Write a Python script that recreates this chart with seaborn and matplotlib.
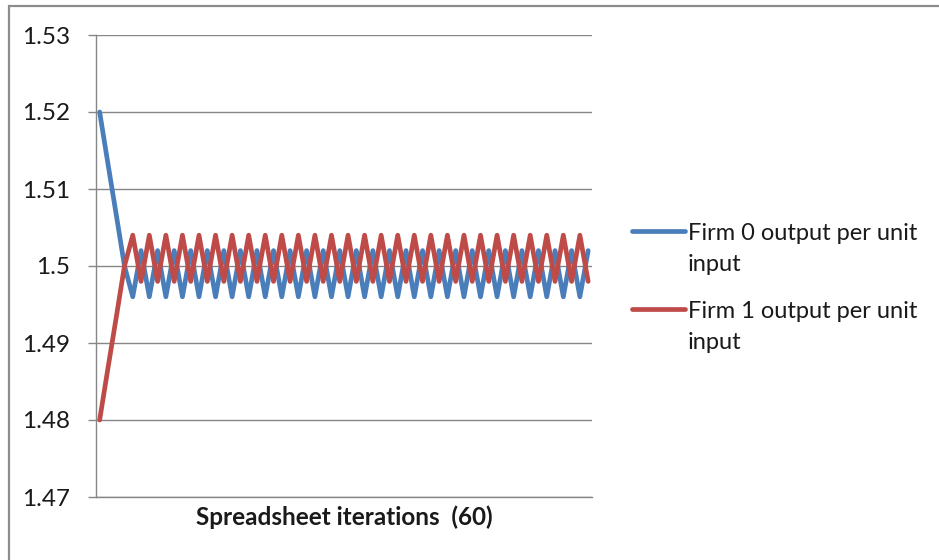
import numpy as np
import pandas as pd
import matplotlib
matplotlib.use("Agg")
import matplotlib.pyplot as plt
import seaborn as sns
from matplotlib.patches import Rectangle
from matplotlib.lines import Line2D

# ---- data ----
iterations = list(range(60))
firm0 = [1.52, 1.5133, 1.5067, 1.500,
         1.496, 1.502, 1.496, 1.502, 1.496, 1.502, 1.496, 1.502, 1.496, 1.502,
         1.496, 1.502, 1.496, 1.502, 1.496, 1.502, 1.496, 1.502, 1.496, 1.502,
         1.496, 1.502, 1.496, 1.502, 1.496, 1.502, 1.496, 1.502, 1.496, 1.502,
         1.496, 1.502, 1.496, 1.502, 1.496, 1.502, 1.496, 1.502, 1.496, 1.502,
         1.496, 1.502, 1.496, 1.502, 1.496, 1.502, 1.496, 1.502, 1.496, 1.502,
         1.496, 1.502, 1.496, 1.502, 1.496, 1.502]
firm1 = [1.48, 1.4867, 1.4933, 1.500,
         1.504, 1.498, 1.504, 1.498, 1.504, 1.498, 1.504, 1.498, 1.504, 1.498,
         1.504, 1.498, 1.504, 1.498, 1.504, 1.498, 1.504, 1.498, 1.504, 1.498,
         1.504, 1.498, 1.504, 1.498, 1.504, 1.498, 1.504, 1.498, 1.504, 1.498,
         1.504, 1.498, 1.504, 1.498, 1.504, 1.498, 1.504, 1.498, 1.504, 1.498,
         1.504, 1.498, 1.504, 1.498, 1.504, 1.498, 1.504, 1.498, 1.504, 1.498,
         1.504, 1.498, 1.504, 1.498, 1.504, 1.498]
series_names = ["Firm 0 output per unit\ninput", "Firm 1 output per unit\ninput"]
y_ticks = [1.47, 1.48, 1.49, 1.50, 1.51, 1.52, 1.53]
y_tick_labels = ["1.47", "1.48", "1.49", "1.5", "1.51", "1.52", "1.53"]
x_label = "Spreadsheet iterations  (60)"
colors = ["#4A7EBB", "#BE4B48"]

df = pd.DataFrame({
    "iter": iterations * 2,
    "value": firm0 + firm1,
    "series": [series_names[0]] * len(firm0) + [series_names[1]] * len(firm1),
})

sns.set_theme(style="white")
plt.rcParams["font.family"] = ["Lato", "DejaVu Sans"]
GRID = "#868686"
TXT = "#1a1a1a"
FS = 17.5
W, H = 939, 560

fig = plt.figure(figsize=(9.39, 5.6), dpi=100)
ax = fig.add_axes([95.5 / W, 1 - 497 / H, (592.3 - 95.5) / W, (497 - 35) / H])

sns.lineplot(data=df, x="iter", y="value", hue="series", palette=colors,
             linewidth=3.4, ax=ax, legend=False, solid_joinstyle="round",
             solid_capstyle="round")

ax.set_xlim(-0.5, 59.5)
ax.set_ylim(1.47, 1.53)
ax.set_yticks(y_ticks)
ax.set_yticklabels(y_tick_labels)
ax.set_xticks([])
ax.yaxis.grid(True, color=GRID, linewidth=1.0)
ax.set_axisbelow(True)
for s in ["top", "right"]:
    ax.spines[s].set_visible(False)
for s in ["left", "bottom"]:
    ax.spines[s].set_color(GRID)
    ax.spines[s].set_linewidth(1.0)
ax.tick_params(axis="y", which="major", left=True, length=5.5, width=1.0,
               color=GRID, pad=13, labelsize=FS, labelcolor=TXT)
ax.set_ylabel("")
ax.set_xlabel(x_label, fontsize=FS, fontweight="bold", color=TXT, labelpad=6)

# legend (handle aligned with the first line of each wrapped label)
leg_rows = [231, 309]
for name, col, yc in zip(series_names, colors, leg_rows):
    fig.add_artist(Line2D([632 / W, 685 / W], [1 - yc / H, 1 - yc / H],
                          transform=fig.transFigure, color=col, linewidth=3.4,
                          solid_capstyle="round"))
    fig.text(688 / W, 1 - (yc - 8.5) / H, name, fontsize=17, color=TXT,
             ha="left", va="top", linespacing=1.6)

# outer chart border
fig.patches.append(Rectangle((8.7 / W, -0.1), 1.2, 1 - 6 / H + 0.1,
                             transform=fig.transFigure, fill=False,
                             edgecolor="#8c8c8c", linewidth=1.6))

fig.savefig("out.png", dpi=100)
